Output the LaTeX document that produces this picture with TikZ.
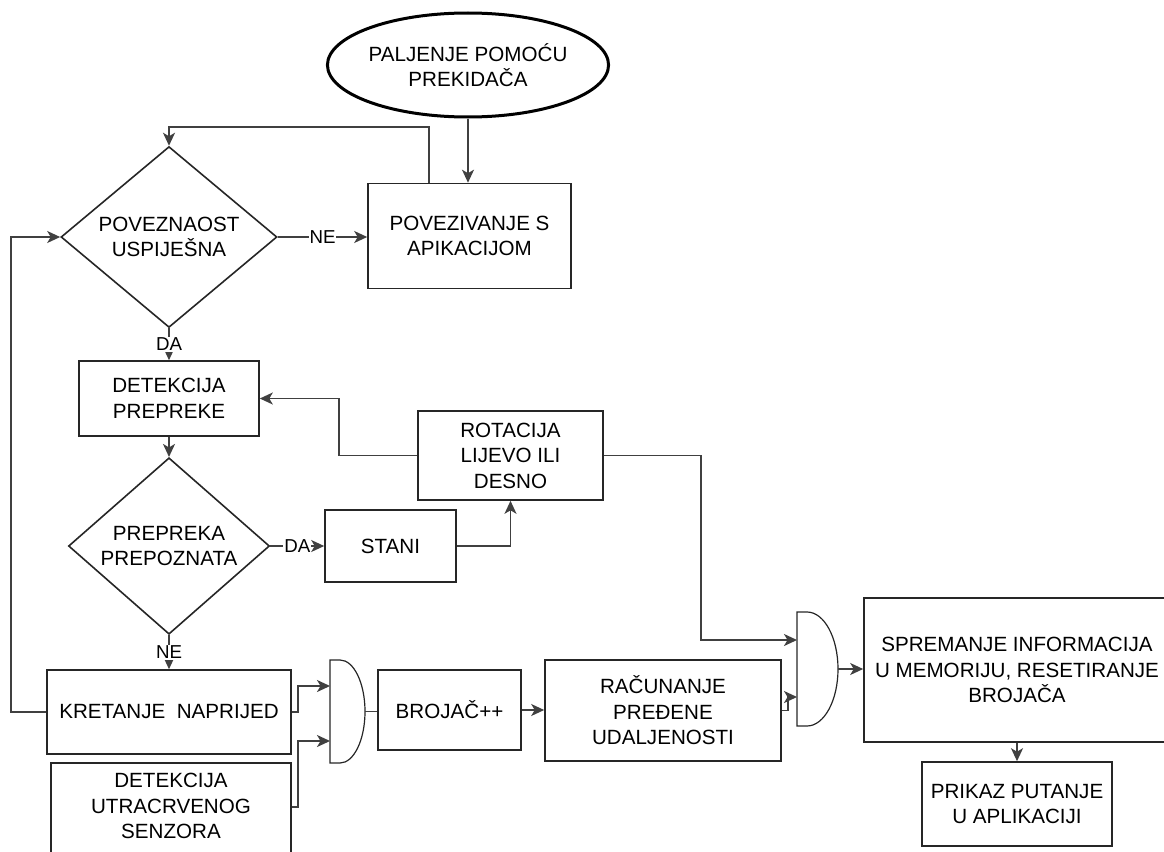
\documentclass[tikz,border=0pt]{standalone}
\usepackage{fontspec}
\setmainfont{Liberation Sans}
\usepackage{tikz}
\usetikzlibrary{shapes.geometric}
\usetikzlibrary{arrows.meta}
\tikzset{mtext/.style={font=\fontsize{20.6}{25.5}\selectfont,align=center,inner sep=0pt}}
\tikzset{mbox/.style={mtext,draw=black!85,line width=1.6pt,rectangle}}
\tikzset{mdiam/.style={mtext,draw=black!85,line width=1.6pt,diamond}}
\tikzset{mstart/.style={mtext,draw=black,line width=3pt,ellipse}}
\tikzset{mline/.style={draw=black!75,line width=1.8pt}}
\tikzset{marrow/.style={mline,-{Stealth[length=13pt,width=12pt,inset=3.5pt]}}}
\tikzset{mlabel/.style={fill=white,font=\fontsize{18.7}{22}\selectfont,inner sep=1pt}}
\tikzset{mgate/.style={draw=black!85,line width=1.2pt}}
\begin{document}
\begin{tikzpicture}[x=1pt,y=-1pt]
\useasboundingbox (0,0) rectangle (1164,851);
\clip (0,0) rectangle (1164,851);

\node[mstart,minimum width=280pt,minimum height=104pt] (start) at (468,65) {PALJENJE POMOĆU\\PREKIDAČA};
\node[mbox,minimum width=203pt,minimum height=105pt] (conn) at (469.5,236) {POVEZIVANJE S\\APIKACIJOM};
\node[mdiam,minimum width=216pt,minimum height=172pt] (q1) at (169,237) {POVEZNAOST\\USPIJEŠNA};
\node[mbox,minimum width=180pt,minimum height=75pt] (det) at (169,398.5) {DETEKCIJA\\PREPREKE};
\node[mdiam,minimum width=201pt,minimum height=176pt] (q2) at (169,546) {PREPREKA\\PREPOZNATA};
\node[mbox,minimum width=131pt,minimum height=72pt] (stani) at (390.5,546) {STANI};
\node[mbox,minimum width=185pt,minimum height=89pt] (rot) at (510.5,455.5) {ROTACIJA\\LIJEVO ILI\\DESNO};
\node[mbox,minimum width=244pt,minimum height=84pt] (kret) at (169,712) {KRETANJE~ NAPRIJED};
\node[mbox,minimum width=240pt,anchor=north,text height=76pt,text depth=24pt] (ir) at (171,762) {DETEKCIJA\\UTRACRVENOG\\SENZORA};
\node[mbox,minimum width=143pt,minimum height=80pt] (broj) at (449.5,710) {BROJAČ++};
\node[mbox,minimum width=236pt,minimum height=101pt] (rac) at (663,710.5) {RAČUNANJE\\PREĐENE\\UDALJENOSTI};
\node[mbox,minimum width=306pt,minimum height=144pt] (spr) at (1017,670) {SPREMANJE INFORMACIJA\\U MEMORIJU, RESETIRANJE\\BROJAČA};
\node[mbox,minimum width=190pt,minimum height=84pt] (prik) at (1017,804) {PRIKAZ PUTANJE\\U APLIKACIJI};

% AND gates
\draw[mgate] (330,660) -- (340,660) arc[start angle=90,end angle=-90,x radius=25pt,y radius=51.5pt] -- (330,763) -- cycle;
\draw[mgate] (797,612) -- (807,612) arc[start angle=90,end angle=-90,x radius=31pt,y radius=57pt] -- (797,726) -- cycle;
\coordinate (g1a) at (330,686);
\coordinate (g1b) at (330,741);
\coordinate (g1o) at (365,711.5);
\coordinate (g2a) at (797,640);
\coordinate (g2b) at (797,697);
\coordinate (g2o) at (838,669);

% bends
\coordinate (bendT) at (429,127);
\coordinate (bendL) at (11,0);
\coordinate (bendA) at (339,0);
\coordinate (bendB) at (701,0);
\coordinate (bendG) at (298,0);
\coordinate (bendR) at (788,0);
\coordinate (irOut) at ([yshift=-45pt]ir.north east);

\draw[marrow] (start.south) -- (start.south |- conn.north);
\draw[marrow] (conn.north -| bendT) -- (bendT) -| (q1.north);
\draw[marrow] (q1.east) -- node[mlabel] {NE} (q1.east -| conn.west);
\draw[marrow] (q1.south) -- node[mlabel] {DA} (det.north);
\draw[marrow] (det.south) -- (q2.north);
\draw[marrow] (q2.east) -- node[mlabel] {DA} (stani.west);
\draw[marrow] (stani.east) -| (rot.south);
\draw[marrow] (rot.west) -- (rot.west -| bendA) |- (det.east);
\draw[marrow] (rot.east) -- (rot.east -| bendB) |- (g2a);
\draw[marrow] (q2.south) -- node[mlabel] {NE} (kret.north);
\draw[marrow] (kret.west) -- (kret.west -| bendL) |- (q1.west);
\draw[marrow] (kret.east) -- (kret.east -| bendG) |- (g1a);
\draw[marrow] (irOut) -- (irOut -| bendG) |- (g1b);
\draw[mline] (g1o) -- (g1o -| broj.west);
\draw[marrow] (broj.east) -- (broj.east -| rac.west);
\draw[marrow] (rac.east) -- (rac.east -| bendR) |- (g2b);
\draw[marrow] (g2o) -- (g2o -| spr.west);
\draw[marrow] (spr.south) -- (prik.north);

\end{tikzpicture}
\end{document}
